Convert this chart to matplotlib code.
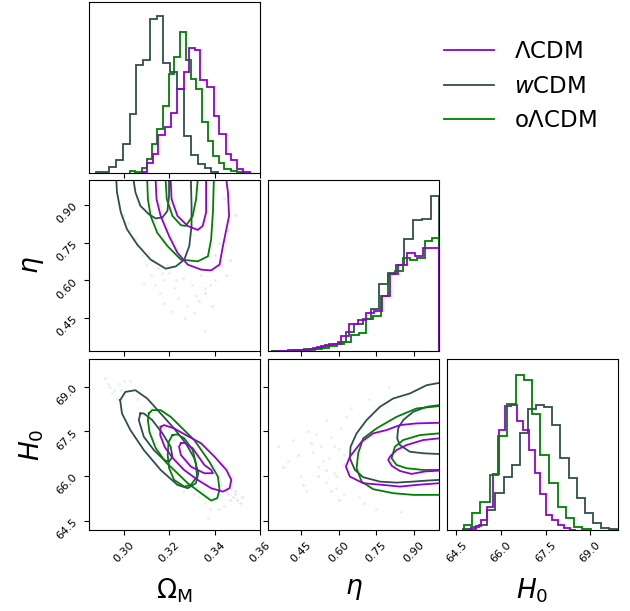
import numpy as np
import matplotlib
matplotlib.use('Agg')
import matplotlib.pyplot as plt
from matplotlib.lines import Line2D

# colours of the three models
colors = {'lcdm': '#9400D3', 'wcdm': '#2F4F4F', 'olcdm': '#008000'}
labels = {'lcdm': r'$\Lambda$CDM', 'wcdm': r'$w$CDM', 'olcdm': r'o$\Lambda$CDM'}

# axis ranges and ticks
om_range = (0.2848, 0.36)
eta_range = (0.319, 1.0)
h0_range = (64.18, 69.94)
om_ticks = [0.30, 0.32, 0.34, 0.36]
eta_ticks = [0.45, 0.60, 0.75, 0.90]
h0_ticks = [64.5, 66.0, 67.5, 69.0]

# ---- 1D histograms ----
om_edges_w = [0.2879, 0.2908, 0.2938, 0.2967, 0.2997, 0.3027, 0.3056, 0.3086, 0.3116, 0.3145,
              0.3175, 0.3204, 0.3237, 0.3267, 0.3296, 0.3326, 0.3356, 0.3385, 0.3415]
om_hist_w = [3, 3, 17, 38, 87, 175, 322, 335, 458, 467, 327, 300, 250, 110, 52, 25, 15, 2]
om_edges_o = [0.3027, 0.3052, 0.3079, 0.3101, 0.3123, 0.3148, 0.3175, 0.3200, 0.3222, 0.3249,
              0.3274, 0.3296, 0.3319, 0.3344, 0.3370, 0.3393, 0.3419, 0.3442, 0.3471, 0.3501, 0.3526]
om_hist_o = [5, 2, 13, 40, 85, 130, 200, 295, 345, 420, 335, 278, 250, 150, 95, 50, 30, 12, 5, 2]
om_edges_l = [0.3079, 0.3101, 0.3130, 0.3153, 0.3182, 0.3207, 0.3237, 0.3264, 0.3289, 0.3316,
              0.3338, 0.3367, 0.3397, 0.3419, 0.3449, 0.3471, 0.3501, 0.3526, 0.3556]
om_hist_l = [3, 30, 55, 113, 135, 178, 250, 300, 372, 365, 277, 257, 170, 115, 55, 37, 10, 2]

eta_edges_w = [0.3292, 0.3624, 0.3969, 0.4301, 0.4633, 0.4964, 0.5296, 0.5628, 0.5960, 0.6291, 0.6623,
               0.6955, 0.7287, 0.7618, 0.7950, 0.8282, 0.8614, 0.8972, 0.9304, 0.9662, 1.0]
eta_hist_w = [1, 1, 2, 3, 5, 8, 15, 21, 26, 56, 81, 96, 125, 200, 235, 258, 336, 393, 396, 466]
eta_edges_l = [0.3505, 0.3830, 0.4155, 0.4480, 0.4805, 0.5130, 0.5455, 0.5781, 0.6106, 0.6431, 0.6756,
               0.7081, 0.7406, 0.7731, 0.8056, 0.8381, 0.8707, 0.9032, 0.9357, 0.9682, 1.0]
eta_hist_l = [1, 1, 2, 3, 6, 12, 18, 22, 45, 80, 92, 115, 120, 165, 232, 258, 293, 286, 310, 308]
eta_edges_o = [0.3292, 0.3584, 0.3876, 0.4168, 0.4460, 0.4752, 0.5044, 0.5336, 0.5628, 0.5920, 0.6212,
               0.6504, 0.6796, 0.7088, 0.7380, 0.7672, 0.7963, 0.8255, 0.8547, 0.8839, 0.9131,
               0.9423, 0.9715, 1.0]
eta_hist_o = [1, 0, 1, 1, 2, 3, 5, 8, 16, 21, 28, 48, 55, 95, 105, 165, 230, 240, 278, 273, 278, 330, 340]

h0_edges_o = [64.746, 65.025, 65.304, 65.617, 65.896, 66.209, 66.488, 66.767, 67.047, 67.326,
              67.605, 67.907, 68.186, 68.465, 68.744, 69.024]
h0_hist_o = [15, 50, 85, 165, 280, 378, 465, 450, 348, 225, 142, 70, 37, 10, 3]
h0_edges_l = [64.947, 65.148, 65.338, 65.539, 65.740, 65.941, 66.142, 66.332, 66.533, 66.734,
              66.935, 67.136, 67.326, 67.527, 67.728, 67.929, 68.119, 68.320, 68.521]
h0_hist_l = [3, 12, 30, 70, 168, 300, 372, 375, 325, 300, 240, 170, 108, 45, 30, 15, 5, 1]
h0_edges_w = [64.718, 64.991, 65.265, 65.539, 65.812, 66.086, 66.360, 66.633, 66.907, 67.181,
              67.454, 67.728, 68.002, 68.275, 68.549, 68.822, 69.096, 69.370, 69.643, 69.917]
h0_hist_w = [3, 8, 15, 60, 110, 160, 195, 290, 362, 375, 368, 315, 215, 155, 95, 50, 20, 5, 3]

# ---- 2D contours (outer, inner), data coordinates ----
# Omega_M vs eta (open at the eta = 1 edge)
om_eta_w_outer = [(0.2968, 1.0), (0.2971, 0.951), (0.2988, 0.871), (0.3015, 0.804), (0.3060, 0.743),
                  (0.3119, 0.683), (0.3185, 0.647), (0.3230, 0.656), (0.3267, 0.683), (0.3289, 0.737),
                  (0.3299, 0.817), (0.3299, 0.897), (0.3296, 1.0)]
om_eta_w_inner = [(0.3044, 1.0), (0.3052, 0.951), (0.3074, 0.897), (0.3111, 0.864), (0.3141, 0.847),
                  (0.3171, 0.851), (0.3193, 0.877), (0.3200, 0.937), (0.3200, 1.0)]
om_eta_o_outer = [(0.3104, 1.0), (0.3107, 0.924), (0.3119, 0.857), (0.3148, 0.790), (0.3193, 0.737),
                  (0.3252, 0.683), (0.3326, 0.676), (0.3371, 0.696), (0.3385, 0.763), (0.3393, 0.871),
                  (0.3397, 1.0)]
om_eta_o_inner = [(0.3185, 1.0), (0.3190, 0.924), (0.3215, 0.857), (0.3252, 0.820), (0.3274, 0.817),
                  (0.3304, 0.857), (0.3319, 0.924), (0.3326, 1.0)]
om_eta_l_outer = [(0.3141, 1.0), (0.3145, 0.924), (0.3163, 0.857), (0.3200, 0.777), (0.3237, 0.710),
                  (0.3282, 0.663), (0.3341, 0.643), (0.3385, 0.640), (0.3422, 0.663), (0.3437, 0.737),
                  (0.3464, 0.857), (0.3459, 0.951), (0.3452, 1.0)]
om_eta_l_inner = [(0.3207, 1.0), (0.3211, 0.924), (0.3237, 0.857), (0.3282, 0.817), (0.3326, 0.801),
                  (0.3348, 0.817), (0.3363, 0.871), (0.3363, 1.0)]

# Omega_M vs H0 (closed)
om_h0_w_outer = [(0.2985, 68.553), (0.3008, 68.832), (0.3052, 68.889), (0.3104, 68.610), (0.3163, 68.107),
                 (0.3222, 67.603), (0.3274, 67.099), (0.3311, 66.596), (0.3329, 66.092), (0.3318, 65.756),
                 (0.3282, 65.588), (0.3237, 65.699), (0.3163, 66.203), (0.3089, 66.874), (0.3030, 67.546),
                 (0.2993, 68.107)]
om_h0_w_inner = [(0.3074, 68.107), (0.3089, 68.107), (0.3126, 67.882), (0.3171, 67.435), (0.3207, 66.985),
                 (0.3215, 66.649), (0.3200, 66.482), (0.3178, 66.539), (0.3133, 66.874), (0.3089, 67.321),
                 (0.3067, 67.882)]
om_h0_o_outer = [(0.3111, 68.107), (0.3126, 68.218), (0.3163, 68.218), (0.3207, 67.993), (0.3266, 67.546),
                 (0.3311, 67.210), (0.3377, 66.482), (0.3415, 65.978), (0.3422, 65.531), (0.3412, 65.253),
                 (0.3385, 65.172), (0.3341, 65.420), (0.3282, 65.756), (0.3237, 66.092), (0.3185, 66.471),
                 (0.3141, 66.942), (0.3114, 67.479), (0.3107, 67.882)]
om_h0_o_inner = [(0.3215, 67.378), (0.3237, 67.402), (0.3267, 67.267), (0.3304, 66.874), (0.3318, 66.428),
                 (0.3323, 65.978), (0.3296, 65.699), (0.3267, 65.642), (0.3222, 65.867), (0.3200, 66.270),
                 (0.3194, 66.707), (0.3198, 67.143)]
om_h0_l_outer = [(0.3163, 67.657), (0.3178, 67.714), (0.3222, 67.603), (0.3274, 67.378), (0.3341, 67.099),
                 (0.3400, 66.649), (0.3452, 66.203), (0.3474, 65.867), (0.3466, 65.588), (0.3437, 65.474),
                 (0.3385, 65.588), (0.3326, 65.867), (0.3266, 66.203), (0.3216, 66.606), (0.3181, 66.975),
                 (0.3161, 67.378)]
om_h0_l_inner = [(0.3252, 67.099), (0.3267, 67.120), (0.3304, 66.931), (0.3355, 66.371), (0.3385, 66.203),
                 (0.3393, 66.092), (0.3355, 66.092), (0.3296, 66.314), (0.3252, 66.707), (0.3244, 66.985)]

# eta vs H0 (open at the eta = 1 edge)
eta_h0_w_outer = [(1.0, 69.134), (0.9505, 69.057), (0.8840, 68.778), (0.8175, 68.610), (0.7646, 68.328),
                  (0.7116, 67.882), (0.6718, 67.435), (0.6479, 66.985), (0.6451, 66.596), (0.6650, 66.204),
                  (0.6981, 65.958), (0.7646, 65.810), (0.8311, 65.776), (0.8972, 65.810), (0.9505, 65.844),
                  (1.0, 65.867)]
eta_h0_w_inner = [(1.0, 68.385), (0.9505, 68.328), (0.8972, 68.161), (0.8574, 67.882), (0.8374, 67.603),
                  (0.8335, 67.267), (0.8442, 67.042), (0.8840, 66.817), (0.9370, 66.764), (1.0, 66.740)]
eta_h0_o_outer = [(1.0, 68.352), (0.9107, 68.275), (0.8311, 67.993), (0.7514, 67.603), (0.6981, 67.267),
                  (0.6782, 66.764), (0.6718, 66.260), (0.6917, 65.810), (0.7379, 65.555), (0.8175, 65.420),
                  (0.8972, 65.363), (1.0, 65.363)]
eta_h0_o_inner = [(1.0, 67.435), (0.9239, 67.378), (0.8574, 67.210), (0.8243, 66.985), (0.8112, 66.596),
                  (0.8311, 66.371), (0.8709, 66.260), (0.9370, 66.203), (1.0, 66.203)]
eta_h0_l_outer = [(1.0, 67.791), (0.9107, 67.771), (0.8442, 67.714), (0.7912, 67.546), (0.7379, 67.435),
                  (0.6917, 67.153), (0.6451, 66.649), (0.6292, 66.314), (0.6451, 65.978), (0.6981, 65.756),
                  (0.7777, 65.699), (0.8442, 65.642), (0.9107, 65.699), (1.0, 65.756)]
eta_h0_l_inner = [(1.0, 67.267), (0.9370, 67.210), (0.8709, 67.042), (0.8311, 66.874), (0.8044, 66.649),
                  (0.7977, 66.539), (0.8124, 66.337), (0.8442, 66.169), (0.8908, 66.068), (0.9437, 66.152),
                  (1.0, 66.179)]

# ---- faint sample points outside the contours ----
om_eta_pts_grey = [(0.300, 0.86), (0.303, 0.80), (0.306, 0.74), (0.308, 0.70), (0.310, 0.66), (0.312, 0.62),
                   (0.314, 0.58), (0.316, 0.55), (0.318, 0.60), (0.320, 0.63), (0.322, 0.57), (0.324, 0.53),
                   (0.326, 0.61), (0.328, 0.50), (0.330, 0.58), (0.332, 0.54), (0.334, 0.62), (0.336, 0.57),
                   (0.318, 0.51), (0.315, 0.65), (0.325, 0.66), (0.313, 0.68), (0.305, 0.77), (0.298, 0.90),
                   (0.327, 0.45), (0.331, 0.47), (0.309, 0.59), (0.321, 0.48), (0.336, 0.40), (0.340, 0.60),
                   (0.302, 0.83), (0.311, 0.71), (0.319, 0.66), (0.323, 0.60), (0.317, 0.63)]
om_eta_pts_purple = [(0.340, 0.70), (0.343, 0.66), (0.345, 0.62), (0.338, 0.58), (0.336, 0.55), (0.342, 0.75),
                     (0.346, 0.80), (0.349, 0.86), (0.344, 0.93), (0.333, 0.52), (0.339, 0.50), (0.347, 0.68)]
om_h0_pts_grey = [(0.292, 69.3), (0.294, 69.0), (0.296, 68.9), (0.298, 69.1), (0.295, 68.8), (0.300, 69.2),
                  (0.303, 69.2), (0.297, 68.6), (0.306, 68.6), (0.312, 68.3), (0.318, 67.6), (0.322, 67.2),
                  (0.333, 65.3), (0.336, 65.1), (0.338, 64.9), (0.340, 65.2), (0.342, 64.9), (0.337, 64.6),
                  (0.344, 65.0), (0.331, 65.4), (0.335, 65.5), (0.293, 69.1), (0.299, 68.9), (0.326, 65.5)]
om_h0_pts_purple = [(0.346, 65.4), (0.348, 65.3), (0.350, 65.2), (0.349, 65.5), (0.352, 65.3), (0.347, 65.6),
                    (0.345, 65.5), (0.351, 65.1), (0.343, 65.7), (0.349, 65.4), (0.347, 65.2)]
eta_h0_pts_grey = [(0.36, 67.0), (0.40, 66.5), (0.42, 67.2), (0.45, 66.0), (0.48, 67.5), (0.50, 66.8),
                   (0.52, 66.3), (0.53, 67.0), (0.55, 65.8), (0.56, 66.6), (0.57, 67.3), (0.58, 66.1),
                   (0.59, 65.6), (0.60, 66.9), (0.61, 67.6), (0.62, 65.4), (0.63, 68.0), (0.65, 68.3),
                   (0.68, 65.3), (0.70, 65.1), (0.72, 68.6), (0.75, 64.9), (0.80, 69.0), (0.85, 64.8),
                   (0.55, 67.9), (0.47, 65.5), (0.54, 66.5), (0.58, 67.0), (0.62, 66.7), (0.51, 67.4)]
eta_h0_pts_purple = [(0.38, 66.3), (0.44, 66.7), (0.52, 66.0), (0.57, 65.5), (0.49, 67.1), (0.60, 65.2),
                     (0.62, 66.4), (0.46, 65.7), (0.55, 66.2), (0.59, 66.0)]

fig = plt.figure(figsize=(6.3, 6.11), dpi=100)

W, H = 630.0, 611.0
col_left = [89, 268, 447]
row_top = [1.7, 180, 359]
size = 171


def make_ax(r, c):
    left = col_left[c] / W
    bottom = 1 - (row_top[r] + size) / H
    return fig.add_axes([left, bottom, size / W, size / H])


def style(ax):
    ax.tick_params(labelsize=8, direction='out', length=3.5)


def draw_line(ax, pts, color, closed=False):
    pts = np.array(pts)
    if closed:
        pts = np.vstack([pts, pts[:1]])
    ax.plot(pts[:, 0], pts[:, 1], color=color, lw=1.3)


def draw_pts(ax, pts, color):
    pts = np.array(pts)
    ax.plot(pts[:, 0], pts[:, 1], 'o', ms=2, color=color, alpha=0.12, mec='none')


# diagonal: histograms
ax_om = make_ax(0, 0)
ax_om.stairs(om_hist_w, om_edges_w, color=colors['wcdm'], lw=1.3)
ax_om.stairs(om_hist_o, om_edges_o, color=colors['olcdm'], lw=1.3)
ax_om.stairs(om_hist_l, om_edges_l, color=colors['lcdm'], lw=1.3)
ax_om.set_xlim(*om_range)
ax_om.set_ylim(0, 510)
ax_om.set_xticks(om_ticks)
ax_om.set_xticklabels([])
ax_om.set_yticks([])

ax_eta = make_ax(1, 1)
ax_eta.stairs(eta_hist_w, eta_edges_w, color=colors['wcdm'], lw=1.3)
ax_eta.stairs(eta_hist_o, eta_edges_o, color=colors['olcdm'], lw=1.3)
ax_eta.stairs(eta_hist_l, eta_edges_l, color=colors['lcdm'], lw=1.3)
ax_eta.set_xlim(*eta_range)
ax_eta.set_ylim(0, 513)
ax_eta.set_xticks(eta_ticks)
ax_eta.set_xticklabels([])
ax_eta.set_yticks([])

ax_h0 = make_ax(2, 2)
ax_h0.stairs(h0_hist_w, h0_edges_w, color=colors['wcdm'], lw=1.3)
ax_h0.stairs(h0_hist_l, h0_edges_l, color=colors['lcdm'], lw=1.3)
ax_h0.stairs(h0_hist_o, h0_edges_o, color=colors['olcdm'], lw=1.3)
ax_h0.set_xlim(*h0_range)
ax_h0.set_ylim(0, 512)
ax_h0.set_xticks(h0_ticks)
ax_h0.set_xticklabels(['%.1f' % t for t in h0_ticks], rotation=45)
ax_h0.set_yticks([])

label_y = -0.27
label_x = -0.25

# Omega_M vs eta
ax1 = make_ax(1, 0)
draw_pts(ax1, om_eta_pts_grey, '#557766')
draw_pts(ax1, om_eta_pts_purple, colors['lcdm'])
for pts, key in [(om_eta_w_outer, 'wcdm'), (om_eta_w_inner, 'wcdm'),
                 (om_eta_o_outer, 'olcdm'), (om_eta_o_inner, 'olcdm'),
                 (om_eta_l_outer, 'lcdm'), (om_eta_l_inner, 'lcdm')]:
    draw_line(ax1, pts, colors[key])
ax1.set_xlim(*om_range)
ax1.set_ylim(*eta_range)
ax1.set_xticks(om_ticks)
ax1.set_xticklabels([])
ax1.set_yticks(eta_ticks)
ax1.set_yticklabels(['%.2f' % t for t in eta_ticks], rotation=45)
ax1.set_ylabel(r'$\eta$', fontsize=19)
ax1.yaxis.set_label_coords(label_x, 0.5)

# Omega_M vs H0
ax2 = make_ax(2, 0)
draw_pts(ax2, om_h0_pts_grey, '#557766')
draw_pts(ax2, om_h0_pts_purple, colors['lcdm'])
for pts, key in [(om_h0_w_outer, 'wcdm'), (om_h0_w_inner, 'wcdm'),
                 (om_h0_o_outer, 'olcdm'), (om_h0_o_inner, 'olcdm'),
                 (om_h0_l_outer, 'lcdm'), (om_h0_l_inner, 'lcdm')]:
    draw_line(ax2, pts, colors[key], closed=True)
ax2.set_xlim(*om_range)
ax2.set_ylim(*h0_range)
ax2.set_xticks(om_ticks)
ax2.set_xticklabels(['%.2f' % t for t in om_ticks], rotation=45)
ax2.set_yticks(h0_ticks)
ax2.set_yticklabels(['%.1f' % t for t in h0_ticks], rotation=45)
ax2.set_ylabel(r'$H_0$', fontsize=19)
ax2.yaxis.set_label_coords(label_x, 0.5)
ax2.set_xlabel(r'$\Omega_{\rm M}$', fontsize=19)
ax2.xaxis.set_label_coords(0.5, label_y)

# eta vs H0
ax3 = make_ax(2, 1)
draw_pts(ax3, eta_h0_pts_grey, '#557766')
draw_pts(ax3, eta_h0_pts_purple, colors['lcdm'])
for pts, key in [(eta_h0_w_outer, 'wcdm'), (eta_h0_w_inner, 'wcdm'),
                 (eta_h0_o_outer, 'olcdm'), (eta_h0_o_inner, 'olcdm'),
                 (eta_h0_l_outer, 'lcdm'), (eta_h0_l_inner, 'lcdm')]:
    draw_line(ax3, pts, colors[key])
ax3.set_xlim(*eta_range)
ax3.set_ylim(*h0_range)
ax3.set_xticks(eta_ticks)
ax3.set_xticklabels(['%.2f' % t for t in eta_ticks], rotation=45)
ax3.set_yticks(h0_ticks)
ax3.set_yticklabels([])
ax3.set_xlabel(r'$\eta$', fontsize=19)
ax3.xaxis.set_label_coords(0.5, label_y)

ax_h0.set_xlabel(r'$H_0$', fontsize=19)
ax_h0.xaxis.set_label_coords(0.5, label_y)

for ax in [ax_om, ax_eta, ax_h0, ax1, ax2, ax3]:
    style(ax)

# legend
handles = [Line2D([], [], color=colors[k], lw=1.3) for k in ['lcdm', 'wcdm', 'olcdm']]
fig.legend(handles, [labels[k] for k in ['lcdm', 'wcdm', 'olcdm']],
           loc='upper left', bbox_to_anchor=(0.672, 0.968), frameon=False,
           fontsize=16.5, handlelength=2.2, labelspacing=0.5, handletextpad=0.85)

plt.savefig('out.png', dpi=100)
